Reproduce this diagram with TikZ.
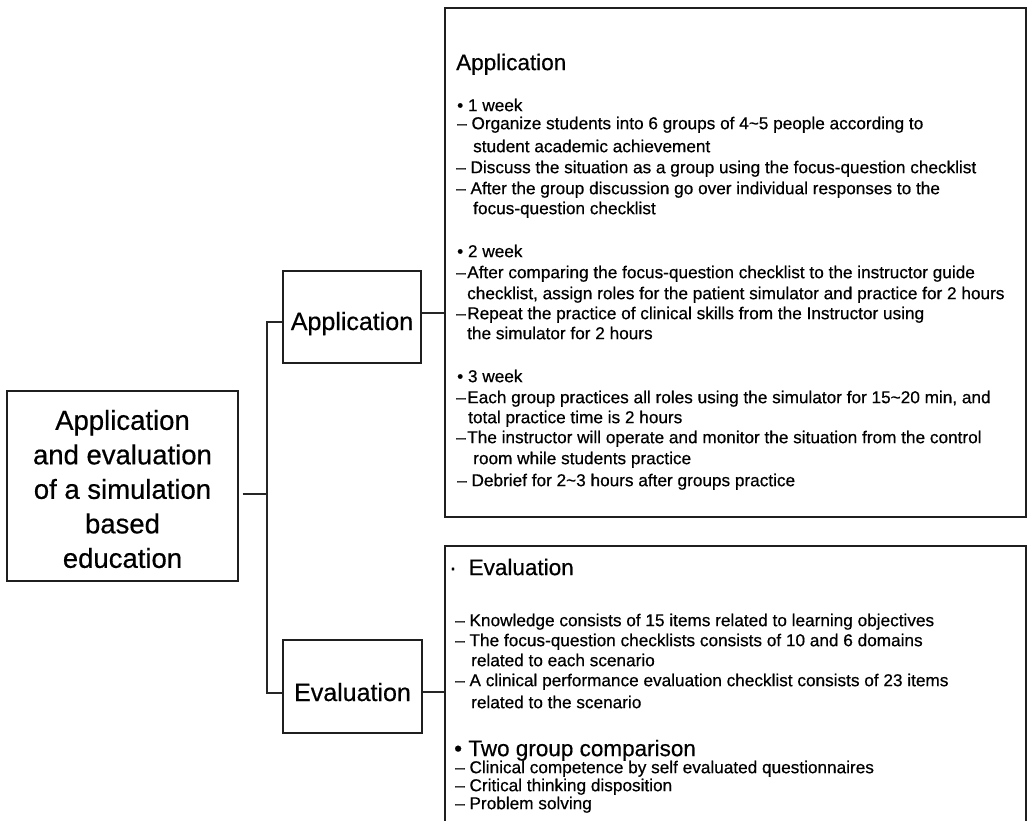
\documentclass[tikz,border=0pt]{standalone}
\usepackage{fontspec}
\setmainfont[FakeBold=0.5]{Liberation Sans}
\begin{document}
\begin{tikzpicture}[x=1pt,y=-1pt,
  box/.style={draw=black!88, line width=1.1pt, rectangle, inner sep=0pt},
  conn/.style={draw=black!85, line width=1.1pt},
  txt/.style={anchor=west, inner sep=0pt, font=\fontsize{17.2}{20}\selectfont, text height=12.4pt, text depth=0pt},
  hd/.style={anchor=west, inner sep=0pt, font=\fontsize{22.5}{27}\selectfont, text height=16.2pt, text depth=0pt}
]
\useasboundingbox (0,0) rectangle (1028,821);
\clip (0,0) rectangle (1028,821);
\fill[white] (0,0) rectangle (1028,821);

% left main box
\node[box, minimum width=231pt, minimum height=190pt] (main) at (122.5,486) {};
\node[align=center, inner sep=0pt, font=\fontsize{27.5}{34.5}\selectfont] (maintext) at (122.5,489)
  {Application\\and evaluation\\of a simulation\\based\\education};

% small boxes
\node[box, minimum width=138pt, minimum height=92pt, text height=26pt, text depth=0pt,
  font=\fontsize{25}{30}\selectfont] (appsmall) at (352,317) {Application};
\node[box, minimum width=139pt, minimum height=93pt, text height=29pt, text depth=0pt,
  font=\fontsize{25}{30}\selectfont] (evalsmall) at (352.5,686.5) {Evaluation};

% big boxes
\node[box, minimum width=581pt, minimum height=509pt] (appbig) at (735.5,262.5) {};
\node[box, minimum width=581pt, minimum height=300pt] (evalbig) at (735.5,696) {};

% connectors
\coordinate (spine) at (267,494);
\draw[conn, shorten <=4pt] (main.east |- spine) -- (spine);
\draw[conn] ([yshift=-5pt]appsmall.west) -| (spine) |- ([yshift=-6.5pt]evalsmall.west);
\draw[conn] ([yshift=4pt]appsmall.east) -- ([yshift=4pt]appsmall.east -| appbig.west);
\draw[conn] ([yshift=-5.5pt]evalsmall.east) -- ([yshift=-5.5pt]evalsmall.east -| evalbig.west);

% application details
\node[hd] (ah) at (456,62) {Application};
\node[txt] (a1) at (457,105) {• 1 week};
\node[txt] (a2) at (457,123) {– Organize students into 6 groups of 4\textasciitilde5 people according to};
\node[txt] (a3) at (473,146) {student academic achievement};
\node[txt] (a4) at (456,167) {– Discuss the situation as a group using the focus-question checklist};
\node[txt] (a5) at (456,188) {– After the group discussion go over individual responses to the};
\node[txt] (a6) at (473,208) {focus-question checklist};
\node[txt] (a7) at (457,251) {• 2 week};
\node[txt] (a8) at (456,272) {–\kern1.5pt After comparing the focus-question checklist to the instructor guide};
\node[txt] (a9) at (467,293) {checklist, assign roles for the patient simulator and practice for 2 hours};
\node[txt] (a10) at (456,313) {–\kern1.5pt Repeat the practice of clinical skills from the Instructor using};
\node[txt] (a11) at (467,333) {the simulator for 2 hours};
\node[txt] (a12) at (457,376) {• 3 week};
\node[txt] (a13) at (456,397) {–\kern1.5pt Each group practices all roles using the simulator for 15\textasciitilde20 min, and};
\node[txt] (a14) at (468,417) {total practice time is 2 hours};
\node[txt] (a15) at (456,437) {–\kern1.5pt The instructor will operate and monitor the situation from the control};
\node[txt] (a16) at (473,458) {room while students practice};
\node[txt] (a17) at (457,480) {– Debrief for 2\textasciitilde3 hours after groups practice};

% evaluation details
\node[hd] (eh) at (449,567) {·\hspace{12pt}Evaluation};
\node[txt] (e1) at (455,620) {– Knowledge consists of 15 items related to learning objectives};
\node[txt] (e2) at (455,640) {– The focus-question checklists consists of 10 and 6 domains};
\node[txt] (e3) at (471,660) {related to each scenario};
\node[txt] (e4) at (455,680) {– A clinical performance evaluation checklist consists of 23 items};
\node[txt] (e5) at (471,702) {related to the scenario};
\node[hd] (th) at (454,748) {• Two group comparison};
\node[txt] (e6) at (455,767) {– Clinical competence by self evaluated questionnaires};
\node[txt] (e7) at (455,785) {– Critical thinking disposition};
\node[txt] (e8) at (455,803) {– Problem solving};
\end{tikzpicture}
\end{document}
